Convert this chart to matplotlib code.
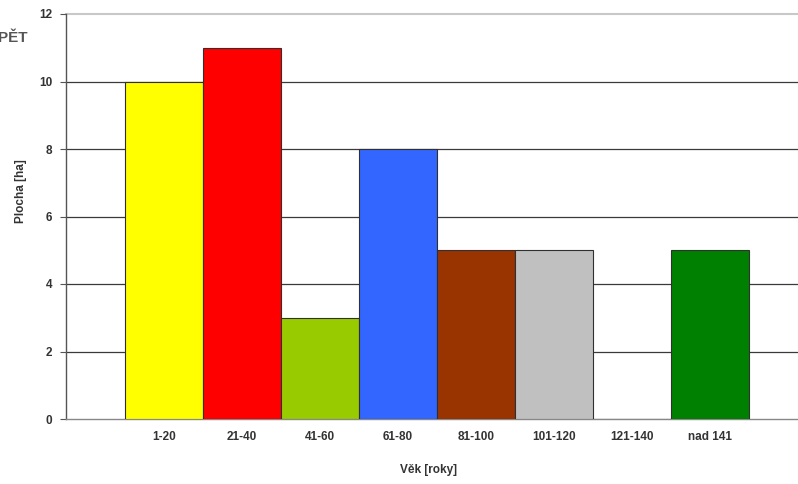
import matplotlib
matplotlib.use("Agg")
import matplotlib.pyplot as plt

categories = ["1-20", "21-40", "41-60", "61-80", "81-100", "101-120", "121-140", "nad 141"]
values = [10, 11, 3, 8, 5, 5, 0, 5]
colors = ["#FFFF00", "#FF0000", "#99CC00", "#3366FF", "#993300", "#C0C0C0", "#FFFFFF", "#008000"]
yticks = [0, 2, 4, 6, 8, 10, 12]

plt.rcParams["font.family"] = ["Liberation Sans", "DejaVu Sans"]

fig = plt.figure(figsize=(7.98, 4.84), dpi=100)
ax = fig.add_axes([66 / 798, 1 - 419 / 484, 1 - 66 / 798, (419 - 14) / 484])

x = list(range(len(categories)))
ax.bar(x, values, width=1.0, color=colors, edgecolor="#303030", linewidth=0.8, zorder=3)

ax.set_xlim(-1.256, 8.13)
ax.set_ylim(0, 12)
ax.set_yticks(yticks)
ax.set_yticklabels([str(t) for t in yticks], fontsize=8.5, fontweight="bold", color="#333333")
ax.set_xticks(x)
ax.set_xticklabels(categories, fontsize=8.5, fontweight="bold", color="#333333")
ax.tick_params(axis="x", length=0, pad=9)
ax.tick_params(axis="y", length=4, width=0.8, color="#555555", pad=6)

for t in yticks[1:-1]:
    ax.axhline(t, color="#3a3a3a", linewidth=0.9, zorder=1)
ax.axhline(12, color="#c8c8c8", linewidth=1.5, zorder=1, clip_on=False)

for side in ["top", "right"]:
    ax.spines[side].set_visible(False)
ax.spines["left"].set_color("#555555")
ax.spines["left"].set_linewidth(1.0)
ax.spines["bottom"].set_color("#888888")
ax.spines["bottom"].set_linewidth(1.0)

fig.text(21 / 798, 1 - 191 / 484, "Plocha [ha]", rotation=90, ha="center", va="center",
         fontsize=8.5, fontweight="bold", color="#333333")
fig.text(428 / 798, 1 - 470 / 484, "Věk [roky]", ha="center", va="center",
         fontsize=8.5, fontweight="bold", color="#333333")
fig.text(-2 / 798, 1 - 38 / 484, "PĚT", ha="left", va="center",
         fontsize=11, fontweight="bold", color="#555555")

fig.savefig("out.png", dpi=100)
